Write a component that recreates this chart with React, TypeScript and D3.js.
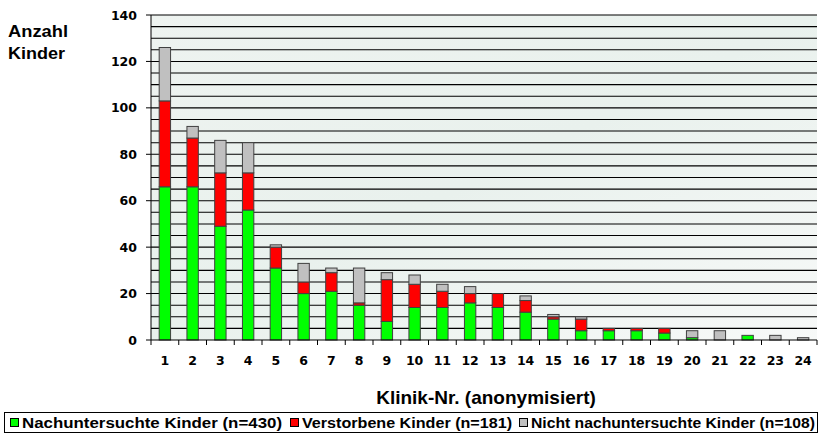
import React from 'react';
import * as d3 from 'd3';

// Klinik-Nr. 1..24
const clinics = d3.range(1, 25).map(String);
const examined = [66, 66, 49, 56, 31, 20, 21, 15, 8, 14, 14, 16, 14, 12, 9, 4, 4, 4, 3, 1, 0, 2, 0, 0];
const deceased = [37, 21, 23, 16, 9, 5, 8, 1, 18, 10, 7, 4, 6, 5, 1, 5, 1, 1, 2, 0, 0, 0, 0, 0];
const notExamined = [23, 5, 14, 13, 1, 8, 2, 15, 3, 4, 3, 3, 0, 2, 1, 1, 0, 0, 0, 3, 4, 0, 2, 1];
const seriesKeys = ['examined', 'deceased', 'notExamined'];
const seriesLabels = [
  'Nachuntersuchte Kinder (n=430)',
  'Verstorbene Kinder (n=181)',
  'Nicht nachuntersuchte Kinder (n=108)',
];
const seriesColors = ['#00ff00', '#ff0000', '#c0c0c0'];
const yTicks = [0, 20, 40, 60, 80, 100, 120, 140];

const W = 819;
const H = 446;
const FONT = '"Liberation Sans", Arial, sans-serif';
const TICK_FONT = '"DejaVu Sans", Verdana, sans-serif';

export default function App() {
  const left = 151;
  const right = 817;
  const top = 15;
  const bottom = 340;

  const x = d3.scaleBand<string>()
    .domain(clinics)
    .range([left, right])
    .paddingInner(0.59)
    .paddingOuter(0.295);

  const y = d3.scaleLinear().domain([0, 140]).range([bottom, top]);

  const rows = clinics.map((c, i) => ({
    clinic: c,
    examined: examined[i],
    deceased: deceased[i],
    notExamined: notExamined[i],
  }));
  const stacked = d3.stack<any>().keys(seriesKeys)(rows);

  const step = x.step();
  const gridValues = d3.range(5, 141, 5);

  // legend layout (x positions of squares)
  const legendItems = [
    { sq: 10, tx: 22, len: 260 },
    { sq: 290, tx: 302, len: 210 },
    { sq: 519, tx: 531, len: 284 },
  ];

  return (
    <div style={{ position: 'fixed', left: 0, top: 0 }}>
      <svg width={W} height={H} style={{ display: 'block', fontFamily: FONT }}>
        <defs>
          <linearGradient id="bg" x1="0" y1="0" x2="1" y2="1">
            <stop offset="0" stopColor="#eef3f0" />
            <stop offset="0.5" stopColor="#e9f1ed" />
            <stop offset="1" stopColor="#f7f9f8" />
          </linearGradient>
        </defs>
        <rect x={0} y={0} width={W} height={H} fill="#ffffff" />
        <rect x={left} y={top} width={right - left} height={bottom - top} fill="url(#bg)" />

        {/* gridlines */}
        {gridValues.map(v => (
          <line key={v} x1={left} x2={right} y1={y(v)} y2={y(v)} stroke="#000" strokeWidth={1.1} />
        ))}

        {/* bars */}
        {stacked.map((layer, si) => (
          <g key={seriesKeys[si]} fill={seriesColors[si]} stroke="#404040" strokeWidth={1}>
            {layer.map((d, i) => {
              const h = y(d[0]) - y(d[1]);
              if (h <= 0) return null;
              return (
                <rect
                  key={i}
                  x={x(clinics[i])}
                  y={y(d[1])}
                  width={x.bandwidth()}
                  height={h}
                />
              );
            })}
          </g>
        ))}

        {/* axes */}
        <line x1={left} x2={left} y1={top} y2={bottom + 5} stroke="#000" strokeWidth={1} />
        <line x1={left} x2={right} y1={bottom} y2={bottom} stroke="#000" strokeWidth={1} />
        {yTicks.map(t => (
          <g key={t}>
            <line x1={left - 5} x2={left} y1={y(t)} y2={y(t)} stroke="#000" />
            <text
              x={137}
              y={y(t)}
              dy="0.36em"
              textAnchor="end"
              fontSize={12.5}
              fontWeight="bold"
              fontFamily={TICK_FONT}
            >
              {t}
            </text>
          </g>
        ))}
        {d3.range(1, 25).map(i => (
          <line key={i} x1={left + i * step} x2={left + i * step} y1={bottom} y2={bottom + 5} stroke="#000" />
        ))}
        {clinics.map(c => (
          <text
            key={c}
            x={(x(c) as number) + x.bandwidth() / 2}
            y={365}
            textAnchor="middle"
            fontSize={12.5}
            fontWeight="bold"
            fontFamily={TICK_FONT}
          >
            {c}
          </text>
        ))}

        {/* titles */}
        <text x={8} y={37} fontSize={16} fontWeight="bold" textLength={60} lengthAdjust="spacingAndGlyphs">
          Anzahl
        </text>
        <text x={8} y={59} fontSize={16} fontWeight="bold" textLength={57} lengthAdjust="spacingAndGlyphs">
          Kinder
        </text>
        <text x={486} y={404} textAnchor="middle" fontSize={19} fontWeight="bold">
          Klinik-Nr. (anonymisiert)
        </text>

        {/* legend */}
        <rect x={4.5} y={412.5} width={813} height={20} fill="#ffffff" stroke="#000" />
        {legendItems.map((it, i) => (
          <g key={i}>
            <rect x={it.sq + 0.5} y={418.5} width={8} height={8} fill={seriesColors[i]} stroke="#000" />
            <text
              x={it.tx}
              y={427.5}
              fontSize={14}
              fontWeight="bold"
              textLength={it.len}
              lengthAdjust="spacingAndGlyphs"
            >
              {seriesLabels[i]}
            </text>
          </g>
        ))}
      </svg>
    </div>
  );
}
